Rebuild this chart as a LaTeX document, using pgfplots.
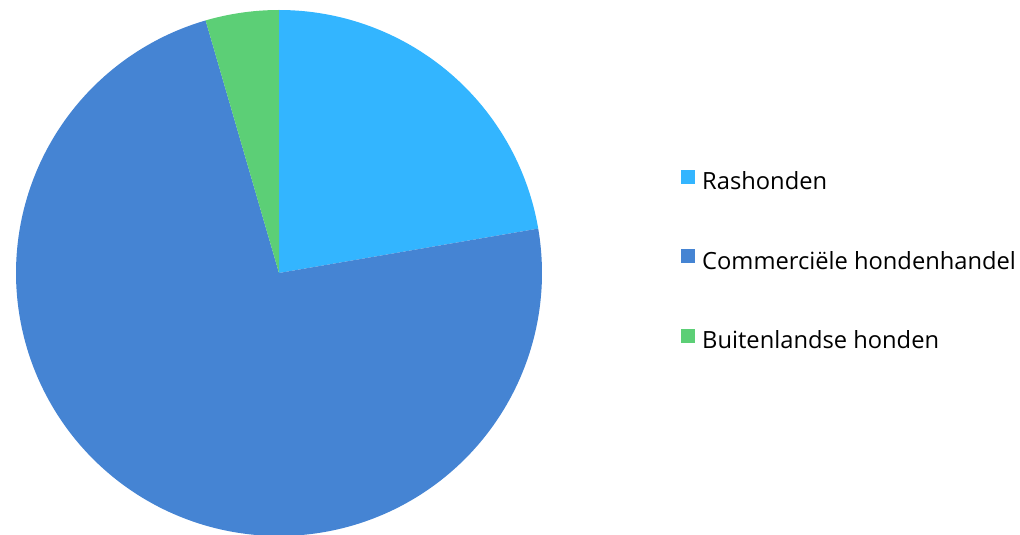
\documentclass[border=0pt]{standalone}
\usepackage{pgfplots}
\usepackage{pgfplotstable}
\pgfplotsset{compat=1.18}
\usepackage{fontspec}
\setmainfont{Open Sans}
\definecolor{cRas}{HTML}{33B5FF}
\definecolor{cCom}{HTML}{4584D3}
\definecolor{cBui}{HTML}{5CCF76}
\pgfplotstableread{
label value
Rashonden 22.3
Commercieel 73.2
Buitenlands 4.5
}\piedata
\pgfplotstablegetelem{0}{value}\of\piedata \let\vA\pgfplotsretval
\pgfplotstablegetelem{1}{value}\of\piedata \let\vB\pgfplotsretval
\pgfplotstablegetelem{2}{value}\of\piedata \let\vC\pgfplotsretval
\pgfmathsetmacro{\tot}{\vA+\vB+\vC}
\pgfmathsetmacro{\aA}{90}
\pgfmathsetmacro{\aB}{90-\vA/\tot*360}
\pgfmathsetmacro{\aC}{\aB-\vB/\tot*360}
\pgfmathsetmacro{\aD}{\aC-\vC/\tot*360}
\def\cx{279}\def\cy{262}\def\rr{263}
\begin{document}
\begin{tikzpicture}
\begin{axis}[
  scale only axis, width=1020pt, height=535pt,
  xmin=0, xmax=1020, ymin=0, ymax=535,
  hide axis, clip=false,
  legend style={draw=none, fill=none, at={(axis cs:681,272)}, anchor=west,
    font=\fontsize{23.7}{27}\selectfont, row sep=52.5pt, inner sep=0pt,
    nodes={text height=17pt, text depth=5pt},
    /tikz/every odd column/.append style={column sep=5pt}},
  legend cell align=left,
  legend image code/.code={\fill[#1] (0pt,0pt) rectangle (14pt,14pt);},
]
\addplot[fill=cRas, draw=none, domain=\aB:\aA, samples=120, variable=\t]
  ({\cx+\rr*cos(t)}, {\cy+\rr*sin(t)}) -- (axis cs:\cx,\cy) -- cycle;
\addlegendentry{Rashonden}
\addplot[fill=cCom, draw=none, domain=\aC:\aB, samples=240, variable=\t]
  ({\cx+\rr*cos(t)}, {\cy+\rr*sin(t)}) -- (axis cs:\cx,\cy) -- cycle;
\addlegendentry{Commerciële hondenhandel}
\addplot[fill=cBui, draw=none, domain=\aD:\aC, samples=40, variable=\t]
  ({\cx+\rr*cos(t)}, {\cy+\rr*sin(t)}) -- (axis cs:\cx,\cy) -- cycle;
\addlegendentry{Buitenlandse honden}
\end{axis}
\pgfresetboundingbox
\path (0,0) rectangle (1020pt,535pt);
\end{tikzpicture}
\end{document}
